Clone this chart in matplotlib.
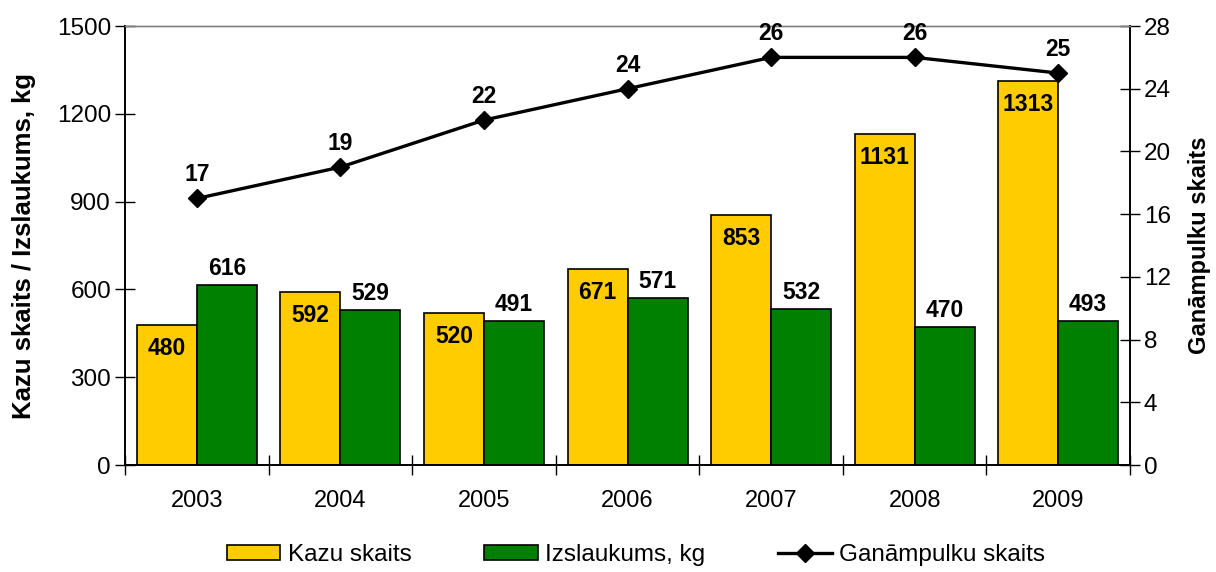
import numpy as np
import matplotlib.pyplot as plt
from matplotlib.ticker import MultipleLocator, FixedLocator

plt.rcParams['font.family'] = ['Liberation Sans', 'DejaVu Sans']

years = ['2003', '2004', '2005', '2006', '2007', '2008', '2009']
kazu = [480, 592, 520, 671, 853, 1131, 1313]
izslaukums = [616, 529, 491, 571, 532, 470, 493]
ganampulku = [17, 19, 22, 24, 26, 26, 25]

yellow = '#FFCC00'
green = '#008000'

fig = plt.figure(figsize=(12.16, 5.72), dpi=100)
ax = fig.add_axes([0.1028, 0.187, 0.8265, 0.7675])
ax2 = ax.twinx()

x = np.arange(len(years))
w = 0.418
b1 = ax.bar(x - w/2, kazu, w, color=yellow, edgecolor='black', linewidth=1.2, label='Kazu skaits', zorder=2)
b2 = ax.bar(x + w/2, izslaukums, w, color=green, edgecolor='black', linewidth=1.2, label='Izslaukums, kg', zorder=2)

for xi, v in zip(x, kazu):
    ax.annotate(str(v), (xi - w/2, v), xytext=(0, -17), textcoords='offset points',
                ha='center', va='center', fontsize=16.5, fontweight='bold')
for xi, v in zip(x, izslaukums):
    ax.annotate(str(v), (xi + w/2, v), xytext=(0, 12), textcoords='offset points',
                ha='center', va='center', fontsize=16.5, fontweight='bold')

ln, = ax2.plot(x, ganampulku, color='black', lw=2.4, marker='D', markersize=9,
               label='Ganāmpulku skaits', zorder=3)
for xi, v in zip(x, ganampulku):
    ax2.annotate(str(v), (xi, v), xytext=(0, 17), textcoords='offset points',
                 ha='center', va='center', fontsize=16.5, fontweight='bold')

ax.set_xlim(-0.5, len(years) - 0.5)
ax.set_ylim(0, 1500)
ax2.set_ylim(0, 28)
ax.yaxis.set_major_locator(MultipleLocator(300))
ax2.yaxis.set_major_locator(MultipleLocator(4))

ax.set_xticks(x)
ax.set_xticklabels(years)
ax.xaxis.set_minor_locator(FixedLocator(np.arange(-0.5, len(years), 1)))
ax.tick_params(axis='x', which='major', length=0, labelsize=17, pad=18)
ax.tick_params(axis='x', which='minor', direction='inout', length=14, width=1)
ax.tick_params(axis='y', direction='inout', length=14, width=1, labelsize=17.5, pad=3)
ax2.tick_params(axis='y', direction='inout', length=14, width=1, labelsize=17.5, pad=3)

ax.set_ylabel('Kazu skaits / Izslaukums, kg', fontsize=18.5, fontweight='bold')
ax2.set_ylabel('Ganāmpulku skaits', fontsize=17, fontweight='bold')
ax.yaxis.set_label_coords(-0.089, 0.5)
ax2.yaxis.set_label_coords(1.058, 0.5)

for a in (ax, ax2):
    a.spines['top'].set_color('#808080')
    a.spines['top'].set_linewidth(1)
    a.spines['left'].set_linewidth(1.2)
    a.spines['right'].set_linewidth(1.2)
    a.spines['bottom'].set_linewidth(1.2)

fig.legend(handles=[b1, b2, ln], loc='center', bbox_to_anchor=(0.523, 0.03), ncol=3,
           frameon=False, fontsize=17.5, columnspacing=3.0, handlelength=2.2,
           handleheight=0.6, handletextpad=0.3, borderpad=0)

fig.savefig('out.png', dpi=100)
